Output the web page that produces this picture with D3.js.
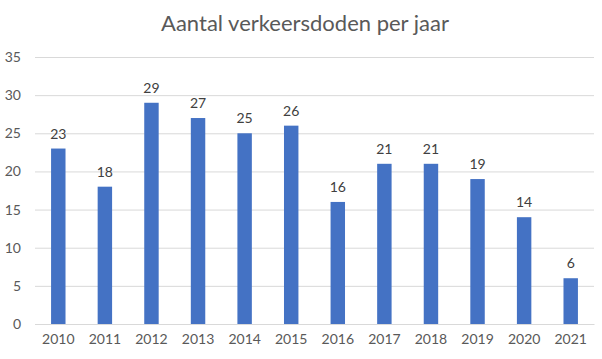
<!DOCTYPE html>
<html><head><meta charset="utf-8">
<script src="https://cdn.jsdelivr.net/npm/d3@7"></script>
<style>body{margin:0;background:#fff}svg{display:block}</style>
</head><body><svg id="c" width="602" height="359"></svg>
<script>
const years = ["2010","2011","2012","2013","2014","2015","2016","2017","2018","2019","2020","2021"];
const deaths = [23,18,29,27,25,26,16,21,21,19,14,6];
const yTicks = [0,5,10,15,20,25,30,35];
const title = "Aantal verkeersdoden per jaar";

const svg = d3.select("#c");
const W=602,H=359;
const m={left:35,right:8,top:57,bottom:35};
const x=d3.scaleBand().domain(years).range([m.left,W-m.right]).paddingInner(0.69).paddingOuter(0.345);
const y=d3.scaleLinear().domain([0,35]).range([H-m.bottom,m.top]);
const font="Lato, 'Open Sans', sans-serif";

svg.append("rect").attr("width",W).attr("height",H).attr("fill","#fff");
svg.append("text").attr("x",305).attr("y",31).attr("text-anchor","middle")
  .attr("font-family",font).attr("font-size",22).attr("fill","#595959").text(title);

const ya=svg.append("g").attr("transform",`translate(${m.left},0)`)
  .call(d3.axisLeft(y).tickValues(yTicks).tickSize(-(W-m.left-m.right)).tickPadding(14));
ya.select(".domain").remove();
ya.selectAll("line").attr("stroke","#d9d9d9");
ya.selectAll("text").attr("font-family",font).attr("font-size",14).attr("fill","#595959");

const xa=svg.append("g").attr("transform",`translate(0,${H-m.bottom})`)
  .call(d3.axisBottom(x).tickSize(0).tickPadding(10));
xa.select(".domain").attr("stroke","#d9d9d9");
xa.selectAll("text").attr("font-family",font).attr("font-size",14).attr("fill","#595959");

svg.selectAll(".bar").data(deaths).join("rect").attr("class","bar")
  .attr("x",(d,i)=>x(years[i])).attr("width",x.bandwidth())
  .attr("y",d=>y(d)).attr("height",d=>y(0)-y(d)).attr("fill","#4472c4");

svg.selectAll(".lbl").data(deaths).join("text").attr("class","lbl")
  .attr("x",(d,i)=>x(years[i])+x.bandwidth()/2).attr("y",d=>y(d)-10)
  .attr("text-anchor","middle").attr("font-family",font).attr("font-size",14)
  .attr("fill","#404040").text(d=>d);
</script></body></html>
